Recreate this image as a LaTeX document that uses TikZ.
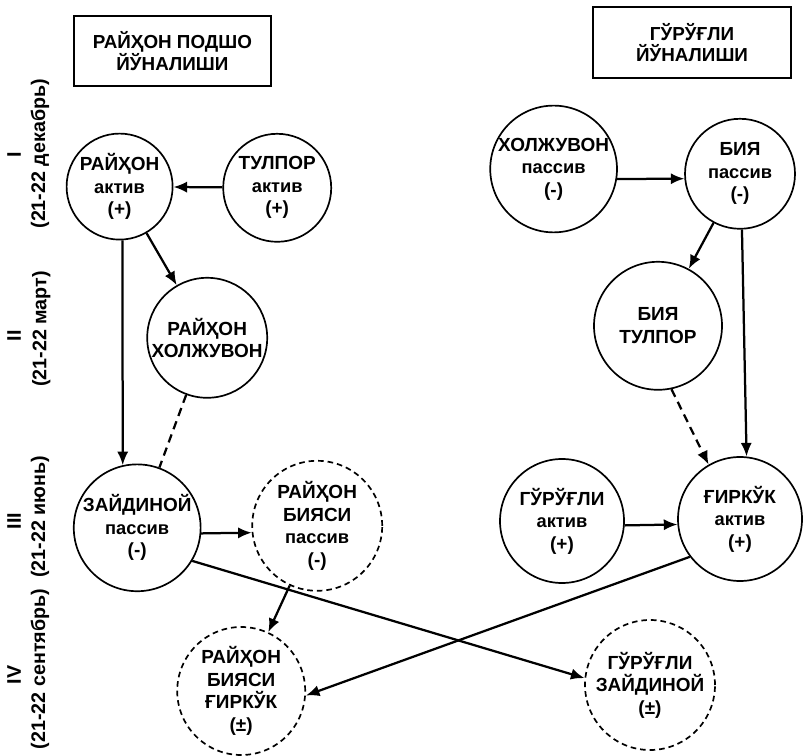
\documentclass[tikz,border=0pt]{standalone}
\usepackage{fontspec}
\setmainfont{Liberation Sans}
\usetikzlibrary{arrows.meta}
\newcommand{\lowline}[1]{{\fontsize{13}{16}\selectfont #1}}
\begin{document}
\begin{tikzpicture}[
        scale=1,
        thick,
        font=\fontsize{13.5}{16}\selectfont\bfseries
    ]
    \tikzset{
        mynode/.style = {circle, draw=black, line width=1.2pt, align=center, inner sep=0pt,
            font=\fontsize{13.5}{16}\selectfont\bfseries},
        mynoded/.style = {mynode, dash pattern=on 4pt off 2.8pt},
        headbox/.style = {rectangle, draw=black, line width=1.2pt, align=center,
            font=\fontsize{13.4}{14.5}\selectfont\bfseries},
        period/.style = {rotate=90, font=\fontsize{14}{17}\selectfont\bfseries},
        edgea/.style = {-{Latex[length=3.4mm,width=2.8mm]}, line width=1.6pt},
        edgen/.style = {-, line width=1.6pt, dash pattern=on 6pt off 4pt},
        edged/.style = {edgea, dash pattern=on 6pt off 4pt},
    }
    \useasboundingbox (0,0) rectangle (20.075,18.875);
    % headers
    \node[headbox, minimum width=4.93cm, minimum height=1.75cm] at (4.31,17.6) (hleft) {РАЙҲОН ПОДШО\\ЙЎНАЛИШИ};
    \node[headbox, minimum width=4.95cm, minimum height=1.78cm] at (17.3,17.81) (hright) {ГЎРЎҒЛИ\\ЙЎНАЛИШИ};
    % periods
    \node[period] at (0.35,15.0) (pI) {I};
    \node[period] at (1.0,15.03) (dI) {(21-22 декабрь)};
    \node[period] at (0.35,10.48) (pII) {II};
    \node[period] at (1.03,10.65) (dII) {(21-22 март)};
    \node[period] at (0.35,5.85) (pIII) {III};
    \node[period] at (1.0,5.95) (dIII) {(21-22 июнь)};
    \node[period] at (0.35,2.0) (pIV) {IV};
    \node[period] at (1.0,2.15) (dIV) {(21-22 сентябрь)};
    % left branch
    \node[mynode, minimum size=2.65cm] at (2.99,14.21) (rayhon) {РАЙҲОН\\\lowline{актив}\\(+)};
    \node[mynode, minimum size=2.7cm] at (6.93,14.18) (tulpor) {ТУЛПОР\\\lowline{актив}\\(+)};
    \node[mynode, minimum size=3.0cm] at (5.18,10.43) (rholj) {РАЙҲОН\\ХОЛЖУВОН};
    \node[mynode, minimum size=3.15cm] at (3.43,5.68) (zaydinoy) {ЗАЙДИНОЙ\\\lowline{пассив}\\(-)};
    \node[mynoded, minimum size=3.25cm] at (7.93,5.73) (rbiya) {РАЙҲОН\\БИЯСИ\\\lowline{пассив}\\(-)};
    \node[mynoded, minimum size=3.2cm] at (6.03,1.6) (rgirkuk) {РАЙҲОН\\БИЯСИ\\ҒИРКЎК\\(±)};
    % right branch
    \node[mynode, minimum size=3.05cm] at (13.84,14.65) (holj) {ХОЛЖУВОН\\\lowline{пассив}\\(-)};
    \node[mynode, minimum size=2.75cm] at (18.5,14.53) (biya) {БИЯ\\\lowline{пассив}\\(-)};
    \node[mynode, minimum size=3.2cm] at (16.45,10.73) (btulpor) {БИЯ\\ТУЛПОР};
    \node[mynode, minimum size=3.1cm] at (14.05,5.85) (gurugli) {ГЎРЎҒЛИ\\\lowline{актив}\\(+)};
    \node[mynode, minimum size=3.1cm] at (18.5,5.9) (girkuk) {ҒИРКЎК\\\lowline{актив}\\(+)};
    \node[mynoded, minimum size=3.25cm] at (16.25,1.75) (gzayd) {ГЎРЎҒЛИ\\ЗАЙДИНОЙ\\(±)};
    %
    \draw[edgea] (tulpor) -- (rayhon);
    \draw[edgea] (rayhon) -- (rholj);
    \draw[edgea] (rayhon.-87) -- (zaydinoy.103);
    \draw[edgen] (rholj) -- (zaydinoy);
    %
    \draw[edgea] (zaydinoy.-5) -- (rbiya.186);
    \draw[edgea] (zaydinoy.-31) -- (gzayd.174);
    \draw[edgea] (rbiya) -- (rgirkuk);
    \draw[edgea] (girkuk.217) -- (rgirkuk.-4);
    %
    \draw[edgea] (holj.-9) -- (biya.185);
    \draw[edgea] (biya) -- (btulpor);
    \draw[edgea] (biya.-88) -- (girkuk.84);
    \draw[edged] (btulpor.-78) -- (girkuk.120);
    \draw[edgea] (gurugli.-4) -- (girkuk.185);
\end{tikzpicture}
\end{document}
